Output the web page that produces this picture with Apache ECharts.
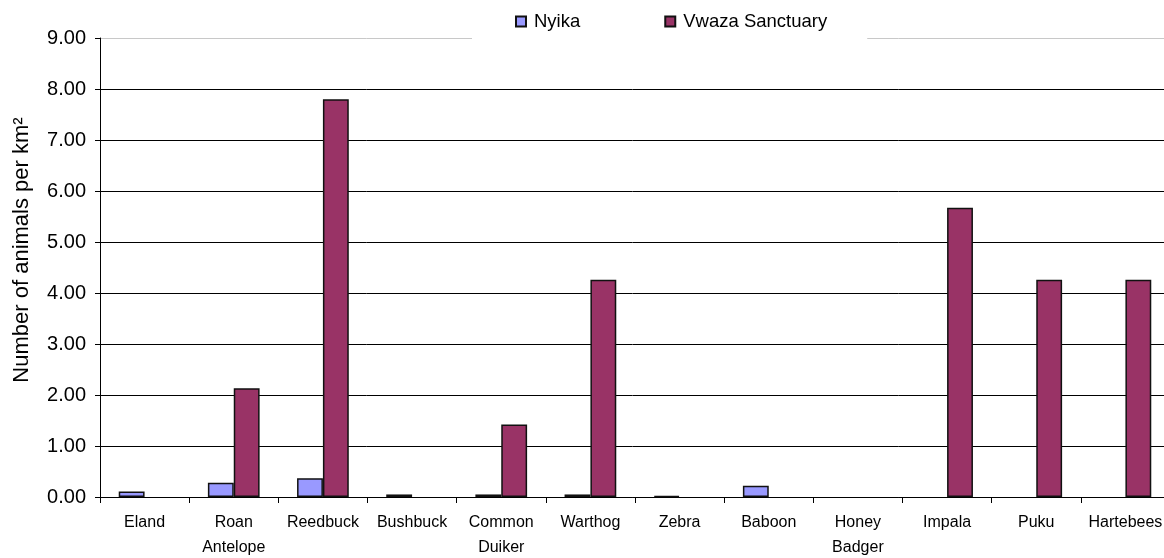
<!DOCTYPE html>
<html>
<head>
<meta charset="utf-8">
<title>Animal density: Nyika vs Vwaza Sanctuary</title>
<script src="https://cdn.jsdelivr.net/npm/echarts@6/dist/echarts.min.js"></script>
<style>
  html, body { margin: 0; padding: 0; background: #fff; }
  #chart { width: 1164px; height: 558px; }
</style>
</head>
<body>
<div id="chart"></div>
<script>
// Species surveyed
const species = ['Eland', 'Roan Antelope', 'Reedbuck', 'Bushbuck', 'Common Duiker', 'Warthog',
                 'Zebra', 'Baboon', 'Honey Badger', 'Impala', 'Puku', 'Hartebees'];

// Density (animals per km²); null where the species was not recorded
const nyika = [0.11, 0.28, 0.37, 0.05, 0.05, 0.05, 0.02, 0.22, null, null, null, null];
const vwaza = [null, 2.13, 7.80, null, 1.42, 4.26, null, null, null, 5.67, 4.26, 4.26];

// Value axis ticks
const yMin = 0, yMax = 9, yStep = 1;

const font = 'Liberation Sans, Arial, sans-serif';

// Gridlines are black; the top frame line is a light grey
const gridColors = [];
for (let v = yMin; v <= yMax; v += yStep) gridColors.push(v === yMax ? '#c8c8c8' : '#000');

const chart = echarts.init(document.getElementById('chart'));
chart.setOption({
  animation: false,
  backgroundColor: '#fff',
  textStyle: { fontFamily: font, color: '#000' },
  grid: { left: 100, right: -6, top: 38, bottom: 61, containLabel: false, outerBoundsMode: 'none' },
  legend: {
    top: 0,
    left: 472,
    padding: [12, 40, 10, 43],
    backgroundColor: '#fff',
    itemWidth: 10,
    itemHeight: 10,
    itemGap: 84,
    icon: 'rect',
    textStyle: { fontFamily: font, fontSize: 18.5, color: '#000', padding: [0, 0, 0, 3] },
    z: 10
  },
  xAxis: {
    type: 'category',
    data: species,
    axisLine: { lineStyle: { color: '#000', width: 1 } },
    axisTick: { show: true, length: 6, lineStyle: { color: '#000' } },
    axisLabel: {
      interval: 0,
      margin: 13,
      fontSize: 16,
      lineHeight: 25,
      color: '#000',
      fontFamily: font,
      formatter: s => s.replace(' ', '\n')
    },
    splitLine: { show: false }
  },
  yAxis: {
    type: 'value',
    min: yMin,
    max: yMax,
    interval: yStep,
    axisLine: { show: true, lineStyle: { color: '#000', width: 1 } },
    axisTick: { show: true, length: 5, lineStyle: { color: '#000' } },
    axisLabel: {
      margin: 14,
      fontSize: 20,
      color: '#000',
      fontFamily: font,
      formatter: v => v.toFixed(2)
    },
    splitLine: { show: true, lineStyle: { color: gridColors, width: 1 } }
  },
  graphic: [{
    type: 'text',
    x: 22,
    y: 250,
    rotation: Math.PI / 2,
    style: {
      text: 'Number of animals per km²',
      fontFamily: font,
      fontSize: 22,
      fill: '#000',
      textAlign: 'center',
      textVerticalAlign: 'middle'
    }
  }],
  series: [
    {
      name: 'Nyika',
      type: 'bar',
      data: nyika,
      barGap: '0%',
      barCategoryGap: '42%',
      itemStyle: { color: '#9999ff', borderColor: '#111', borderWidth: 1.5 }
    },
    {
      name: 'Vwaza Sanctuary',
      type: 'bar',
      data: vwaza,
      barGap: '0%',
      barCategoryGap: '42%',
      itemStyle: { color: '#993366', borderColor: '#111', borderWidth: 1.5 }
    }
  ]
});
</script>
</body>
</html>
